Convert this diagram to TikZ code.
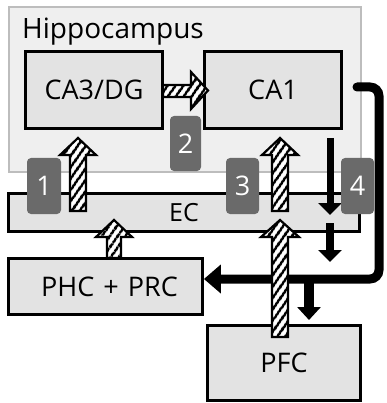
\documentclass[tikz,border=0pt]{standalone}
\usepackage{fontspec}
\setmainfont{Open Sans}
\usetikzlibrary{arrows.meta,patterns.meta}
\definecolor{hipfill}{HTML}{EFEFEF}
\definecolor{hipborder}{HTML}{BDBDBD}
\definecolor{boxgray}{HTML}{E3E3E3}
\definecolor{taggray}{HTML}{6A6A6A}
\begin{document}
\begin{tikzpicture}[x=1pt,y=-1pt,
  txt/.style={font=\fontsize{27}{30}\selectfont},
  box/.style={draw=black, line width=2.8pt, fill=boxgray, inner sep=0pt, txt},
  tag/.style={fill=taggray, rounded corners=4pt, text=white, inner sep=0pt, txt},
  blk/.style={line width=9pt, draw=black},
  hatch/.style={preaction={fill=white}, pattern={Lines[angle=55,distance=6.5pt,line width=3pt]}, pattern color=black, draw=black, line width=2.2pt, line join=miter}
]
\useasboundingbox (0,0) rectangle (386,403);
% hippocampus region
\node[draw=hipborder, line width=2pt, fill=hipfill, minimum width=352pt, minimum height=164pt, inner sep=0pt] (hip) at (184.5,89.5) {};
\node[anchor=base west, inner sep=0pt, font=\fontsize{28}{30}\selectfont] (hiplabel) at (22,39) {Hippocampus};
% boxes
\node[box, minimum width=137pt, minimum height=77pt] (ca3) at (94,90) {CA3/DG};
\node[box, minimum width=137pt, minimum height=77pt] (ca1) at (273,90) {CA1};
\node[box, minimum width=351pt, minimum height=38pt, font=\fontsize{25}{28}\selectfont] (ec) at (184,212.5) {EC};
\node[box, minimum width=194pt, minimum height=56pt, text width=194pt, align=center] (phc) at (105.5,286.5) {\hspace*{8pt}PHC + PRC};
\node[box, minimum width=153pt, minimum height=75pt] (pfc) at (284,363) {PFC};
% black pathways
\coordinate (c1out) at (357,87);
\draw[blk, line cap=round, rounded corners=9pt, -{Triangle[length=17pt,width=28pt]}] (c1out) -- (379,87) -- (379,279) -- (phc.east |- 0,279);
\coordinate (brA) at (309,279);
\coordinate (brAend) at (309,320);
\draw[blk, line width=9.5pt, -{Triangle[length=13pt,width=23pt]}] (brA) -- (brAend);
\coordinate (dA) at (330,138);
\coordinate (dAend) at (330,215);
\coordinate (dB) at (330,223);
\coordinate (dBend) at (330,262);
\draw[blk, line width=7pt, -{Triangle[length=12pt,width=23pt]}] (dA) -- (dAend);
\draw[blk, line width=8pt, -{Triangle[length=12pt,width=23pt]}] (dB) -- (dBend);
% hatched arrows
\path[hatch] (163,85) -- (191,85) -- (191,72) -- (208,90.5) -- (191,109) -- (191,97) -- (163,97) -- cycle;
\path[hatch] (70,211) -- (70,155) -- (60,155) -- (78,138) -- (96,155) -- (86,155) -- (86,211) -- cycle;
\path[hatch] (272,211) -- (272,155) -- (262,155) -- (280,138) -- (298,155) -- (288,155) -- (288,211) -- cycle;
\path[hatch] (107,258) -- (107,237) -- (96,237) -- (114,220) -- (132,237) -- (121,237) -- (121,258) -- cycle;
\path[hatch] (272,337) -- (272,237) -- (261,237) -- (280,220) -- (299,237) -- (288,237) -- (288,337) -- cycle;
% number tags
\node[tag, minimum width=34pt, minimum height=56pt] (t1) at (44,186) {1};
\node[tag, minimum width=31pt, minimum height=55pt] (t2) at (185.5,143.5) {2};
\node[tag, minimum width=33pt, minimum height=56pt] (t3) at (242.5,186) {3};
\node[tag, minimum width=33pt, minimum height=56pt] (t4) at (357.5,186) {4};
\end{tikzpicture}
\end{document}
